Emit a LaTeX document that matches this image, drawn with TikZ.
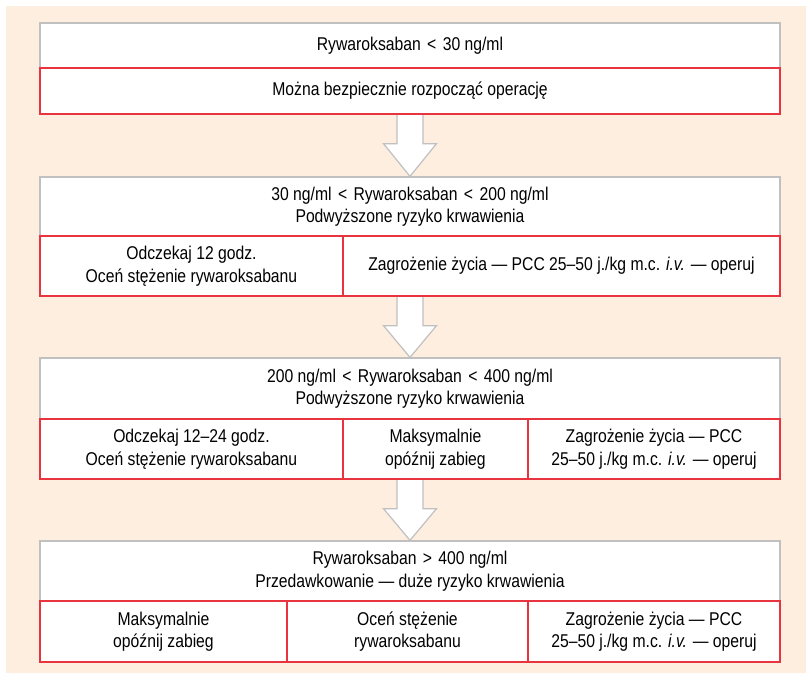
\documentclass[tikz,border=0pt]{standalone}
\usepackage{fontspec}
\setmainfont{Liberation Sans}[FakeStretch=0.85]
\usetikzlibrary{backgrounds,calc}
\definecolor{peach}{RGB}{253,238,224}
\definecolor{boxgray}{RGB}{192,192,192}
\definecolor{boxred}{RGB}{232,52,62}
\newcommand{\lt}{\ \hspace{2pt}<\hspace{2pt}\ }
\newcommand{\gt}{\ \hspace{2pt}>\hspace{2pt}\ }
\tikzset{
  base/.style={inner sep=0pt, align=center, font=\fontsize{18.5}{22.5}\selectfont, fill=white, line width=1.3pt},
  headbox/.style={base, draw=boxgray},
  cellbox/.style={base, draw=boxred},
  blockarr/.style={fill=white, draw=boxgray, line width=1.2pt, line join=miter},
}
\newcommand{\blockarrow}[2]{%
  \draw[blockarr] ($(#1)+(-13,0)$) -- ++(0,29) -- ++(-13.5,0) -- (#2)
    -- ($(#1)+(26.5,29)$) -- ++(-13.5,0) -- ($(#1)+(13,0)$);}
\begin{document}
\begin{tikzpicture}[x=1pt,y=-1pt]
\useasboundingbox (0,0) rectangle (806,673);
% box 1
\node[headbox, minimum width=740pt, minimum height=45pt] (h1) at (410,45.5) {Rywaroksaban\lt 30 ng/ml};
\node[cellbox, minimum width=740pt, minimum height=46pt] (r1) at (410,91) {Można bezpiecznie rozpocząć operację};
% box 2
\node[headbox, minimum width=740pt, minimum height=59pt] (h2) at (410,206.5) {30 ng/ml\lt Rywaroksaban\lt 200 ng/ml\\Podwyższone ryzyko krwawienia};
\node[cellbox, minimum width=303pt, minimum height=60pt] (c2a) at (191.5,266) {Odczekaj 12 godz.\\Oceń stężenie rywaroksabanu};
\node[cellbox, minimum width=437pt, minimum height=60pt] (c2b) at (561.5,266) {Zagrożenie życia — PCC 25–50 j./kg m.c. \textit{i.v.} — operuj};
% box 3
\node[headbox, minimum width=740pt, minimum height=61pt] (h3) at (410,388.5) {200 ng/ml\lt Rywaroksaban\lt 400 ng/ml\\Podwyższone ryzyko krwawienia};
\node[cellbox, minimum width=303pt, minimum height=60pt] (c3a) at (191.5,449) {Odczekaj 12–24 godz.\\Oceń stężenie rywaroksabanu};
\node[cellbox, minimum width=185pt, minimum height=60pt] (c3b) at (435.5,449) {Maksymalnie\\opóźnij zabieg};
\node[cellbox, minimum width=252pt, minimum height=60pt] (c3c) at (654,449) {Zagrożenie życia — PCC\\25–50 j./kg m.c. \textit{i.v.} — operuj};
% box 4
\node[headbox, minimum width=740pt, minimum height=60pt] (h4) at (410,571) {Rywaroksaban\gt 400 ng/ml\\Przedawkowanie — duże ryzyko krwawienia};
\node[cellbox, minimum width=247pt, minimum height=61pt] (c4a) at (163.5,631.5) {Maksymalnie\\opóźnij zabieg};
\node[cellbox, minimum width=241pt, minimum height=61pt] (c4b) at (407.5,631.5) {Oceń stężenie\\rywaroksabanu};
\node[cellbox, minimum width=252pt, minimum height=61pt] (c4c) at (654,631.5) {Zagrożenie życia — PCC\\25–50 j./kg m.c. \textit{i.v.} — operuj};
\coordinate (a1) at (h2.north |- r1.south);
\coordinate (a2) at (h3.north |- c2a.south);
\coordinate (a3) at (h4.north |- c3a.south);
\begin{scope}[on background layer]
  \fill[peach] (6,6) rectangle (806,673);
  \blockarrow{a1}{h2.north}
  \blockarrow{a2}{h3.north}
  \blockarrow{a3}{h4.north}
\end{scope}
\end{tikzpicture}
\end{document}
